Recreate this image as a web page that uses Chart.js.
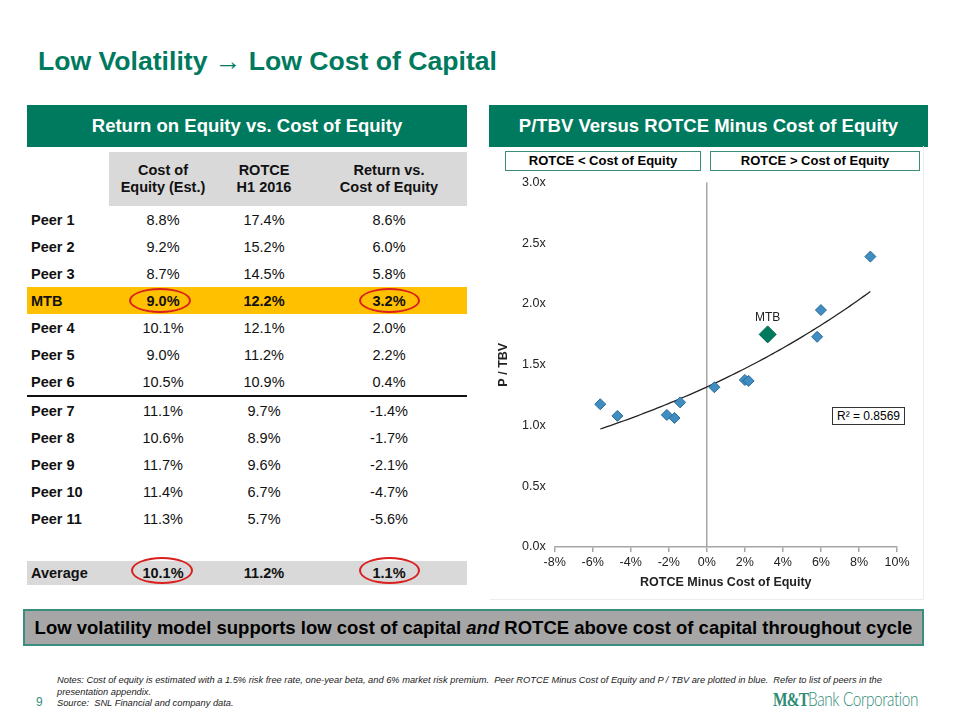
<!DOCTYPE html>
<html>
<head>
<meta charset="utf-8">
<script src="https://cdn.jsdelivr.net/npm/chart.js@4.4.0/dist/chart.umd.min.js"></script>
<style>
    body { margin: 0; background: #fff; font-family: "Liberation Sans", Arial, sans-serif; }
    #slide { position: relative; width: 960px; height: 720px; overflow: hidden; }
    .abs { position: absolute; }
    #titulo { left: 38px; top: 46px; font-size: 26.6px; font-weight: bold; color: #007A5E; white-space: nowrap; }
    .cabecera { background: #007A5E; color: #fff; font-weight: bold; font-size: 18.5px; text-align: center; line-height: 42px; height: 42px; }
    .subcaja { border: 1.5px solid #3B8E7E; font-weight: bold; font-size: 13px; text-align: center; line-height: 18px; height: 18px; box-sizing: content-box; }
    #tabla { left: 27px; top: 152px; width: 440px; border-collapse: collapse; font-size: 14.5px; color: #111; }
    #tabla td, #tabla th { padding: 0; text-align: center; height: 27px; }
    #tabla th { background: #D9D9D9; height: 54px; line-height: 17.5px; font-weight: bold; }
    #tabla th.vacio { background: #fff; }
    #tabla td.nombre { text-align: left; font-weight: bold; padding-left: 4px; }
    #tabla tr.mtb td { background: #FFC000; font-weight: bold; }
    #tabla tr.promedio td { background: #D9D9D9; font-weight: bold; height: 24px; }
    #tabla tr.corte td { border-bottom: 2px solid #111; }
    .elipse { border: 2px solid #D9201F; border-radius: 50%; box-sizing: border-box; }
    #panel { left: 490px; top: 146px; width: 434px; height: 454px; border-right: 1px solid #ECECEC; border-bottom: 1px solid #ECECEC; box-sizing: border-box; }
    #contenedor { left: 490px; top: 166px; width: 433px; height: 432px; }
    #r2 { left: 832px; top: 407px; width: 73px; height: 18px; border: 1px solid #333; background: #fff; font-size: 12px; line-height: 17px; text-align: center; box-sizing: border-box; }
    #banner { left: 23px; top: 609px; width: 901px; height: 37px; background: #A6A6A6; border: 2px solid #3B8E7E; box-sizing: border-box; font-weight: bold; font-size: 18.5px; text-align: center; line-height: 33px; white-space: nowrap; }
    #notas { left: 57px; top: 675px; width: 850px; font-size: 9.3px; font-style: italic; line-height: 11.5px; color: #222; }
    #pagina { left: 36px; top: 695px; font-size: 12px; color: #3B8E7E; }
    #logo { left: 773px; top: 687px; color: #2E8B75; white-space: nowrap; transform-origin: left center; display: inline-block; }
    #logo .mt { font-family: "Liberation Serif", "DejaVu Serif", serif; font-weight: bold; font-size: 19px; letter-spacing: -1px; }
    #logo .banco { font-family: "Lato", "Liberation Sans", sans-serif; font-weight: 300; font-size: 19px; letter-spacing: -0.5px; }
</style>
</head>
<body>
<div id="slide">
    <div id="titulo" class="abs">Low Volatility &rarr; Low Cost of Capital</div>

    <div class="abs cabecera" style="left:27px; top:105px; width:440px;">Return on Equity vs. Cost of Equity</div>
    <div class="abs cabecera" style="left:489px; top:105px; width:439px;">P/TBV Versus ROTCE Minus Cost of Equity</div>

    <table id="tabla" class="abs"></table>

    <div id="panel" class="abs"></div>
    <div class="abs subcaja" style="left:505px; top:151px; width:194px;">ROTCE &lt; Cost of Equity</div>
    <div class="abs subcaja" style="left:710px; top:151px; width:208px;">ROTCE &gt; Cost of Equity</div>
    <div id="contenedor" class="abs"><canvas id="graficoPTBV"></canvas></div>
    <div id="r2" class="abs">R² = 0.8569</div>

    <div id="banner" class="abs">Low volatility model supports low cost of capital <i>and</i> ROTCE above cost of capital throughout cycle</div>

    <div id="pagina" class="abs">9</div>
    <div id="notas" class="abs">Notes: Cost of equity is estimated with a 1.5% risk free rate, one-year beta, and 6% market risk premium.&nbsp; Peer ROTCE Minus Cost of Equity and P / TBV are plotted in blue.&nbsp; Refer to list of peers in the presentation appendix.<br>Source:&nbsp; SNL Financial and company data.</div>
    <div id="logo" class="abs"><span class="mt">M&amp;T</span><span class="banco">Bank Corporation</span></div>
</div>

<script>
// Datos de la tabla (en %)
const nombres = ['Peer 1', 'Peer 2', 'Peer 3', 'MTB', 'Peer 4', 'Peer 5', 'Peer 6', 'Peer 7', 'Peer 8', 'Peer 9', 'Peer 10', 'Peer 11'];
const costoCapital = [8.8, 9.2, 8.7, 9.0, 10.1, 9.0, 10.5, 11.1, 10.6, 11.7, 11.4, 11.3];
const rotce = [17.4, 15.2, 14.5, 12.2, 12.1, 11.2, 10.9, 9.7, 8.9, 9.6, 6.7, 5.7];
const diferencial = [8.6, 6.0, 5.8, 3.2, 2.0, 2.2, 0.4, -1.4, -1.7, -2.1, -4.7, -5.6];
const promedio = [10.1, 11.2, 1.1];

// Datos del gráfico: P / TBV de cada fila
const precioTBV = [2.39, 1.95, 1.73, 1.75, 1.375, 1.367, 1.315, 1.19, 1.062, 1.087, 1.079, 1.175];
const ticksX = [-8, -6, -4, -2, 0, 2, 4, 6, 8, 10];
const ticksY = [0, 0.5, 1.0, 1.5, 2.0, 2.5, 3.0];

function armarTabla() {
    const tabla = document.getElementById('tabla');
    let html = '<tr><th class="vacio" style="width:82px"></th><th style="width:108px">Cost of<br>Equity (Est.)</th>' +
        '<th style="width:94px">ROTCE<br>H1 2016</th><th style="width:156px">Return vs.<br>Cost of Equity</th></tr>';
    nombres.forEach((nombre, i) => {
        let clase = '';
        if (nombre === 'MTB') clase = 'mtb';
        if (nombre === 'Peer 6') clase = 'corte';
        html += `<tr class="${clase}"><td class="nombre">${nombre}</td><td>${costoCapital[i].toFixed(1)}%</td>` +
            `<td>${rotce[i].toFixed(1)}%</td><td>${diferencial[i].toFixed(1)}%</td></tr>`;
    });
    html += '<tr><td colspan="4" style="height:29px"></td></tr>';
    html += `<tr class="promedio"><td class="nombre">Average</td><td>${promedio[0].toFixed(1)}%</td>` +
        `<td>${promedio[1].toFixed(1)}%</td><td>${promedio[2].toFixed(1)}%</td></tr>`;
    tabla.innerHTML = html;
}

function marcarElipses() {
    const slide = document.getElementById('slide');
    const marcas = [[129, 288, 62, 25], [359, 288, 61, 25], [131, 557, 62, 27], [359, 557, 61, 27]];
    marcas.forEach(m => {
        const e = document.createElement('div');
        e.className = 'abs elipse';
        e.style.left = m[0] + 'px';
        e.style.top = m[1] + 'px';
        e.style.width = m[2] + 'px';
        e.style.height = m[3] + 'px';
        slide.appendChild(e);
    });
}

// ajustar el logo al ancho del original
function ajustarLogo() {
    const logo = document.getElementById('logo');
    const ancho = logo.getBoundingClientRect().width;
    logo.style.transform = 'scaleX(' + (145 / ancho) + ')';
}

armarTabla();
marcarElipses();
ajustarLogo();

// puntos de pares y de MTB
const puntosPares = [];
let puntoMTB = null;
nombres.forEach((nombre, i) => {
    const p = { x: diferencial[i], y: precioTBV[i] };
    if (nombre === 'MTB') puntoMTB = p; else puntosPares.push(p);
});

// tendencia exponencial (mínimos cuadrados sobre ln y) de los pares
function ajusteExponencial(puntos) {
    const n = puntos.length;
    let sx = 0, sy = 0, sxy = 0, sxx = 0;
    puntos.forEach(p => {
        const ly = Math.log(p.y);
        sx += p.x; sy += ly; sxy += p.x * ly; sxx += p.x * p.x;
    });
    const b = (n * sxy - sx * sy) / (n * sxx - sx * sx);
    const a = Math.exp((sy - b * sx) / n);
    return { a, b };
}
const tendencia = ajusteExponencial(puntosPares);

const pluginTendencia = {
    id: 'tendencia',
    beforeDatasetsDraw(chart) {
        const { ctx, scales } = chart;
        const xs = puntosPares.map(p => p.x);
        const desde = Math.min(...xs), hasta = Math.max(...xs);
        ctx.save();
        ctx.beginPath();
        ctx.strokeStyle = '#222';
        ctx.lineWidth = 1.3;
        const pasos = 80;
        for (let k = 0; k <= pasos; k++) {
            const x = desde + (hasta - desde) * k / pasos;
            const y = tendencia.a * Math.exp(tendencia.b * x);
            const px = scales.x.getPixelForValue(x), py = scales.y.getPixelForValue(y);
            if (k === 0) ctx.moveTo(px, py); else ctx.lineTo(px, py);
        }
        ctx.stroke();
        ctx.restore();
    },
    afterDatasetsDraw(chart) {
        const meta = chart.getDatasetMeta(1);
        const el = meta.data[0];
        const ctx = chart.ctx;
        ctx.save();
        ctx.font = '12px "Liberation Sans", Arial';
        ctx.fillStyle = '#222';
        ctx.textAlign = 'center';
        ctx.textBaseline = 'middle';
        ctx.fillText('MTB', el.x, el.y - 17);
        ctx.restore();
    }
};

const ctx = document.getElementById('graficoPTBV').getContext('2d');
new Chart(ctx, {
    type: 'scatter',
    data: {
        datasets: [{
            label: 'Peers',
            data: puntosPares,
            pointStyle: 'rectRot',
            pointRadius: 5.5,
            backgroundColor: '#3F8DC1',
            borderColor: '#2B6A98',
            borderWidth: 1
        }, {
            label: 'MTB',
            data: [puntoMTB],
            pointStyle: 'rectRot',
            pointRadius: 8.5,
            backgroundColor: '#007A5E',
            borderColor: '#00664E',
            borderWidth: 1
        }]
    },
    options: {
        responsive: true,
        maintainAspectRatio: false,
        animation: false,
        layout: { padding: { left: 2, right: 26, top: 2, bottom: 8 } },
        plugins: { legend: { display: false }, tooltip: { enabled: false } },
        scales: {
            x: {
                type: 'linear',
                min: ticksX[0],
                max: ticksX[ticksX.length - 1],
                afterBuildTicks: axis => { axis.ticks = ticksX.map(v => ({ value: v })); },
                ticks: { callback: v => v + '%', color: '#222', font: { size: 12.5, family: '"Liberation Sans", Arial' }, padding: 3, maxRotation: 0 },
                grid: {
                    color: c => (c.tick && c.tick.value === 0) ? '#A6A6A6' : 'rgba(0,0,0,0)',
                    tickColor: '#A6A6A6',
                    tickLength: 5,
                    lineWidth: 1.5
                },
                border: { display: true, color: '#A6A6A6', width: 1.5 },
                title: { display: true, text: 'ROTCE Minus Cost of Equity', color: '#222', font: { size: 12.5, weight: 'bold', family: '"Liberation Sans", Arial' }, padding: { top: 2, bottom: 0 } }
            },
            y: {
                type: 'linear',
                min: ticksY[0],
                max: ticksY[ticksY.length - 1],
                afterBuildTicks: axis => { axis.ticks = ticksY.map(v => ({ value: v })); },
                ticks: { callback: v => v.toFixed(1) + 'x', color: '#222', font: { size: 12.5, family: '"Liberation Sans", Arial' }, padding: 9 },
                grid: { display: false, drawTicks: false },
                border: { display: false },
                title: { display: true, text: 'P / TBV', color: '#222', font: { size: 12.5, weight: 'bold', family: '"Liberation Sans", Arial' }, padding: { top: 4, bottom: 2 } }
            }
        }
    },
    plugins: [pluginTendencia]
});
</script>
</body>
</html>
